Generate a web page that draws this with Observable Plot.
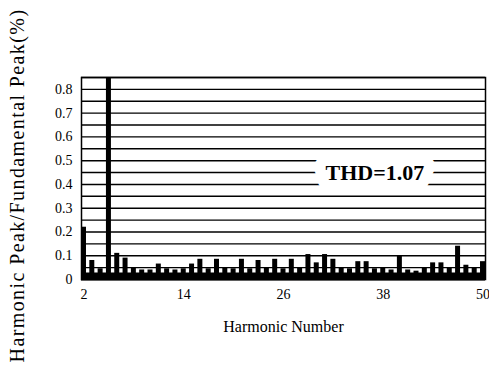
<!DOCTYPE html>
<html>
<head>
<meta charset="utf-8">
<script src="https://cdn.jsdelivr.net/npm/d3@7"></script>
<script src="https://cdn.jsdelivr.net/npm/@observablehq/plot@0.6"></script>
<style>
  html, body { margin: 0; padding: 0; background: white; }
  svg [aria-label="y-axis label"] text { font-size: 20px; letter-spacing: 1.4px; }
  svg [aria-label="x-axis label"] text { font-size: 16px; }
</style>
</head>
<body>
<div id="chart"></div>
<script>
const harmonics = [2,3,4,5,6,7,8,9,10,11,12,13,14,15,16,17,18,19,20,21,22,23,24,25,26,27,28,29,30,31,32,33,34,35,36,37,38,39,40,41,42,43,44,45,46,47,48,49,50];
const peaks = [0.22,0.08,0.045,0.85,0.11,0.09,0.05,0.04,0.04,0.065,0.045,0.04,0.045,0.065,0.085,0.045,0.085,0.05,0.045,0.085,0.045,0.08,0.05,0.085,0.045,0.085,0.05,0.105,0.07,0.105,0.085,0.05,0.045,0.075,0.075,0.045,0.05,0.04,0.1,0.04,0.035,0.05,0.07,0.07,0.05,0.14,0.06,0.05,0.075];
const yTicks = [0,0.1,0.2,0.3,0.4,0.5,0.6,0.7,0.8];
const yTickLabels = ["0","0.1","0.2","0.3","0.4","0.5","0.6","0.7","0.8"];
const xTicks = [2,14,26,38,50];
const gridValues = [0.05,0.1,0.15,0.2,0.25,0.3,0.35,0.4,0.45,0.5,0.55,0.6,0.65,0.7,0.75,0.8,0.85];
const thdLabel = ["THD=1.07"];
const thdPos = {harmonic: 37, value: 0.45};
const xLabel = "Harmonic Number";
const yLabel = "Harmonic Peak/Fundamental Peak(%)";

const bars = harmonics.map((h, i) => ({harmonic: h, peak: peaks[i]}));

const chart = Plot.plot({
  width: 489,
  height: 377,
  marginLeft: 81,
  marginRight: 4,
  marginTop: 77,
  marginBottom: 98,
  style: {fontFamily: "'Liberation Serif', 'Times New Roman', serif", fontSize: "14px", color: "black", background: "white"},
  x: {type: "band", domain: harmonics, paddingInner: 0.4, paddingOuter: 0, round: false},
  y: {domain: [0, 0.85]},
  marks: [
    Plot.ruleY(gridValues, {stroke: "black", strokeWidth: 1.4}),
    Plot.text(thdLabel, {x: () => thdPos.harmonic, y: () => thdPos.value, text: d => d, fontSize: 22, fontWeight: "bold", fill: "black", stroke: "white", strokeWidth: 22}),
    Plot.barY(bars, {x: "harmonic", y: "peak", fill: "black"}),
    Plot.ruleY([0], {stroke: "black", strokeWidth: 8, dy: -3}),
    Plot.frame({stroke: "black", strokeWidth: 1.5}),
    Plot.axisX({ticks: xTicks, tickSize: 0, tickPadding: 10, label: xLabel, labelAnchor: "center", labelArrow: "none", labelOffset: 52}),
    Plot.axisY({ticks: yTicks, tickFormat: (d, i) => yTickLabels[i], tickSize: 0, tickPadding: 9, label: yLabel, labelAnchor: "center", labelArrow: "none", labelOffset: 72})
  ]
});
document.getElementById("chart").appendChild(chart);
d3.select(chart).selectAll('[aria-label="y-axis label"] text').attr("dx", "-7");
</script>
</body>
</html>
